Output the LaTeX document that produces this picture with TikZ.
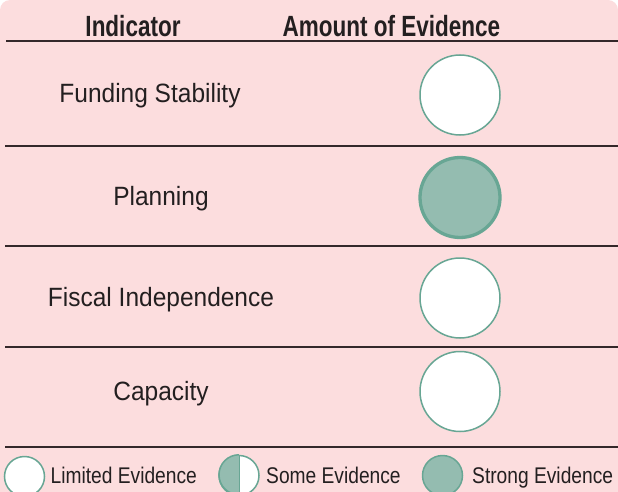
\documentclass[tikz,border=0pt]{standalone}
\usepackage{fontspec}
\setmainfont{Liberation Sans}
\usepackage{xcolor}
\usetikzlibrary{positioning}

\definecolor{bgpink}{RGB}{252,221,222}
\definecolor{tealfill}{RGB}{148,188,176}
\definecolor{tealline}{RGB}{104,166,148}
\definecolor{rulecol}{RGB}{52,40,42}
\definecolor{textcol}{RGB}{35,31,32}

\begin{document}
\begin{tikzpicture}[
    x=1pt, y=-1pt,
    head/.style={font=\bfseries\fontsize{22.5}{26}\selectfont, text=textcol, inner sep=0pt, anchor=base, yscale=1.3, transform shape},
    ind/.style={font=\fontsize{24.5}{28}\selectfont, text=textcol, inner sep=0pt, anchor=base, yscale=1.08, transform shape},
    key/.style={font=\fontsize{19.2}{22}\selectfont, text=textcol, inner sep=0pt, anchor=base west, yscale=1.18, transform shape},
    limited/.style={circle, draw=tealline, line width=1.5pt, fill=white, minimum size=80pt, inner sep=0pt},
    strong/.style={circle, draw=tealline, line width=3.3pt, fill=tealfill, minimum size=80pt, inner sep=0pt},
    keydot/.style={circle, draw=tealline, line width=1.5pt, minimum size=40pt, inner sep=0pt},
    rowrule/.style={draw=rulecol, line width=2pt}
]
% Column positions
\def\colA{161}
\def\colB{460}

% background
\useasboundingbox (0,0) rectangle (618,492);
\fill[bgpink, rounded corners=10pt] (0,0) rectangle (618,530);

% === Header ===
\node[head] (hInd) at (133,36.5) {Indicator};
\node[head] (hAmt) at (391.5,36.5) {Amount of Evidence};
\coordinate (r0a) at (6,41.5);
\coordinate (r0b) at (618,41.5);
\draw[rowrule] (r0a) -- (r0b);

% === Rows ===
\node[ind] (iFund) at (150,102.3) {Funding Stability};
\node[limited] (cFund) at (\colB,95) {};
\coordinate (r1a) at (5,146);
\coordinate (r1b) at (618,146);
\draw[rowrule] (r1a) -- (r1b);

\node[ind] (iPlan) at (\colA,205) {Planning};
\node[strong] (cPlan) at (\colB,197.5) {};
\coordinate (r2a) at (5,246);
\coordinate (r2b) at (618,246);
\draw[rowrule] (r2a) -- (r2b);

\node[ind] (iFisc) at (\colA,306.7) {Fiscal Independence};
\node[limited] (cFisc) at (\colB,298) {};
\coordinate (r3a) at (5,346.5);
\coordinate (r3b) at (618,346.5);
\draw[rowrule] (r3a) -- (r3b);

\node[ind] (iCap) at (\colA,400.7) {Capacity};
\node[limited] (cCap) at (\colB,391.5) {};
\coordinate (r4a) at (5,446.5);
\coordinate (r4b) at (618,446.5);
\draw[rowrule] (r4a) -- (r4b);

% === Legend ===
\node[keydot, fill=white] (kLim) at (24.5,476.5) {};
\node[key] (tLim) at (50.5,483.3) {Limited Evidence};

\node[keydot, fill=white] (kSome) at (239,475.5) {};
\fill[tealfill] (kSome.north) arc[start angle=90, end angle=270, radius=20pt] -- cycle;
\draw[tealline, line width=1.5pt] (kSome.north) arc[start angle=90, end angle=270, radius=20pt];
\draw[tealline, line width=1pt] (kSome.north) -- (kSome.south);
\node[key] (tSome) at (266,483.3) {Some Evidence};

\node[keydot, fill=tealfill] (kStr) at (442.5,475.5) {};
\node[key] (tStr) at (472,483.3) {Strong Evidence};

\end{tikzpicture}
\end{document}
